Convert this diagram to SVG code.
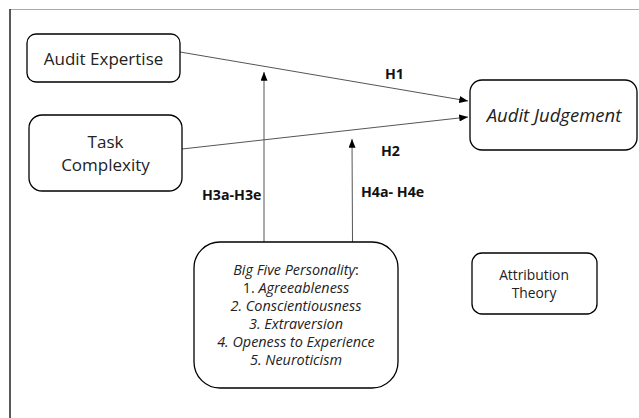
<svg xmlns="http://www.w3.org/2000/svg" width="639" height="418" viewBox="0 0 639 418">
<style>
.box{fill:#fff;stroke:#000;stroke-width:1.3}
.t{font-family:"Open Sans","Liberation Sans",sans-serif;font-size:17px;fill:#222;text-anchor:middle}
.s{font-size:14.4px}
.a{font-size:13.8px}
.i{font-style:italic}
.lbl{font-family:"Open Sans","Liberation Sans",sans-serif;font-size:14.2px;font-weight:bold;fill:#111}
.c{stroke:#555;stroke-width:1;fill:none}
</style>
<defs>
<marker id="ah" viewBox="0 0 10 8" refX="10" refY="4" markerWidth="9" markerHeight="7" markerUnits="userSpaceOnUse" orient="auto">
<path d="M0,0 L10,4 L0,8 Z" fill="#000"/>
</marker>
</defs>
<rect width="639" height="418" fill="#fff"/>
<g id="frame">
<line x1="10" y1="9.5" x2="639" y2="9.5" stroke="#aaa" stroke-width="1.2"/>
<line x1="10" y1="9" x2="10" y2="418" stroke="#222" stroke-width="1.5"/>
</g>
<g id="connectors">
<line class="c" x1="180" y1="52" x2="468" y2="101" marker-end="url(#ah)"/>
<line class="c" x1="182" y1="149" x2="468" y2="117" marker-end="url(#ah)"/>
<line class="c" x1="264" y1="242" x2="264" y2="72" marker-end="url(#ah)"/>
<line class="c" x1="352.5" y1="242" x2="352" y2="139" marker-end="url(#ah)"/>
<text class="lbl" x="385" y="79">H1</text>
<text class="lbl" x="381" y="156">H2</text>
<text class="lbl" x="202" y="200">H3a-H3e</text>
<text class="lbl" x="361" y="197">H4a- H4e</text>
</g>
<g id="audit-expertise">
<rect class="box" x="27" y="34" width="153" height="48" rx="9"/>
<text class="t" x="103.5" y="65">Audit Expertise</text>
</g>
<g id="task-complexity">
<rect class="box" x="29" y="115" width="153" height="76" rx="13"/>
<text class="t" x="105.5" y="148">Task</text>
<text class="t" x="105.5" y="171">Complexity</text>
</g>
<g id="audit-judgement">
<rect class="box" x="470" y="80" width="167" height="70" rx="12"/>
<text class="t i" x="554" y="122" style="font-size:18.5px">Audit Judgement</text>
</g>
<g id="big-five">
<rect class="box" x="194" y="242" width="204" height="146" rx="26"/>
<text class="t s" x="296" y="275"><tspan class="i">Big Five Personality</tspan>:</text>
<text class="t s" x="296" y="293">1. <tspan class="i">Agreeableness</tspan></text>
<text class="t s i" x="296" y="311">2. Conscientiousness</text>
<text class="t s i" x="296" y="329">3. Extraversion</text>
<text class="t s i" x="296" y="347">4. Openess to Experience</text>
<text class="t s i" x="296" y="365">5. Neuroticism</text>
</g>
<g id="attribution-theory">
<rect class="box" x="472" y="253" width="125" height="61" rx="10"/>
<text class="t a" x="534" y="280">Attribution</text>
<text class="t a" x="534" y="298">Theory</text>
</g>
</svg>
